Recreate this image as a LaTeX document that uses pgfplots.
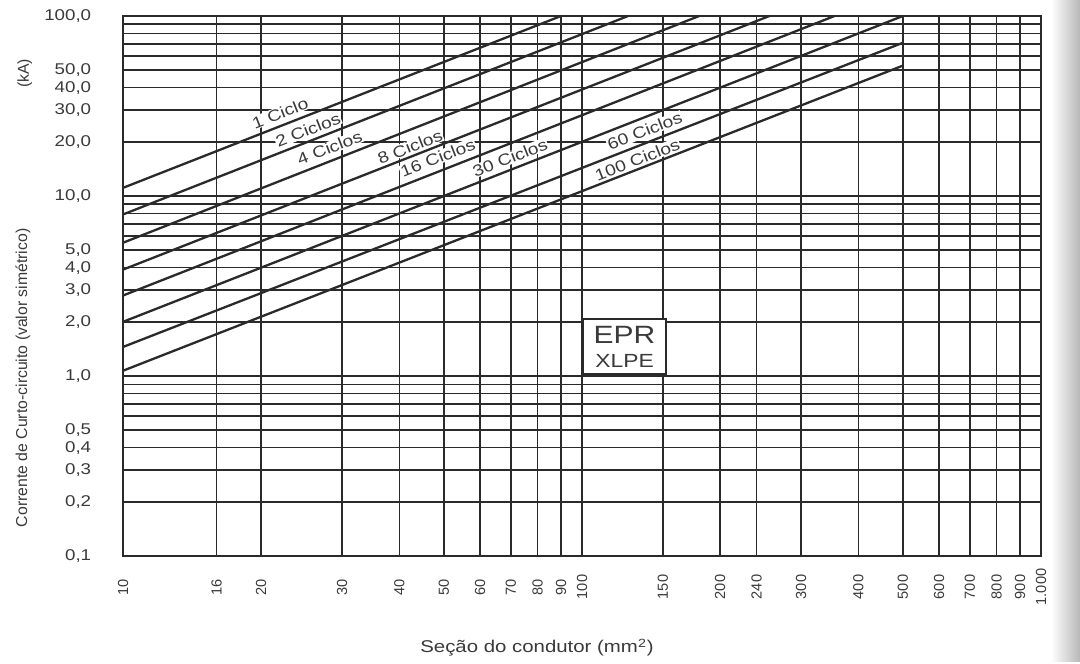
\documentclass[border=0pt]{standalone}
\usepackage{fontspec}
\setmainfont{Liberation Sans}
\newfontfamily\wide{Liberation Sans}[FakeStretch=1.2]
\usepackage{pgfplots}
\pgfplotsset{compat=1.18}
\usetikzlibrary{calc}
\definecolor{ink}{HTML}{2A2A2A}
\definecolor{txt}{HTML}{3A3A3A}
\tikzset{lab/.style={font=\wide\fontsize{8}{9}\selectfont, text=txt, rotate=21.4, fill=white, inner sep=0.3pt}}
\begin{document}
\begin{tikzpicture}
\begin{axis}[
  name=ax, at={(0,0)}, anchor=south west,
  scale only axis, width=459pt, height=270pt,
  xmode=log, ymode=log,
  xmin=10, xmax=1000, ymin=0.1, ymax=100,
  xminorticks=false, yminorticks=false,
  xtick={10,16,20,30,40,50,60,70,80,90,100,150,200,240,300,400,500,600,700,800,900,1000},
  xticklabels={10,16,20,30,40,50,60,70,80,90,100,150,200,240,300,400,500,600,700,800,900,1.000},
  ytick={0.1,0.2,0.3,0.4,0.5,0.6,0.7,0.8,0.9,1,2,3,4,5,6,7,8,9,10,20,30,40,50,60,70,80,90,100},
  yticklabels={{0,1},{0,2},{0,3},{0,4},{0,5},,,,,{1,0},{2,0},{3,0},{4,0},{5,0},,,,,{10,0},{20,0},{30,0},{40,0},{50,0},,,,,{100,0}},
  /pgf/number format/assume math mode=true,
  grid=major,
  major grid style={draw=ink, line width=0.75pt},
  axis line style={draw=ink, line width=0.8pt},
  major tick length=0pt,
  yticklabel style={font=\wide\fontsize{7.8}{9}\selectfont, text=txt, xshift=-12.4pt},
  xticklabel style={font=\fontsize{7.3}{8}\selectfont, text=txt, yshift=-15.5pt, rotate=90, anchor=center},
  clip=false,
]
% curve labels (white background interrupts the grid like the original)
\node[lab] at (axis cs:22.0,28.9) {1 Ciclo};
\node[lab] at (axis cs:25.3,23.3) {2 Ciclos};
\node[lab] at (axis cs:28.2,18.5) {4 Ciclos};
\node[lab] at (axis cs:42.2,18.7) {8 Ciclos};
\node[lab] at (axis cs:48.5,16.3) {16 Ciclos};
\node[lab] at (axis cs:69.7,16.3) {30 Ciclos};
\node[lab] at (axis cs:137,23.0) {60 Ciclos};
\node[lab] at (axis cs:132,15.9) {100 Ciclos};
% curves
\addplot[ink, line width=1.15pt] coordinates {(10,11.1) (90,100)};
\addplot[ink, line width=1.15pt] coordinates {(10,7.9) (126,100)};
\addplot[ink, line width=1.15pt] coordinates {(10,5.5) (180,100)};
\addplot[ink, line width=1.15pt] coordinates {(10,3.9) (256,100)};
\addplot[ink, line width=1.15pt] coordinates {(10,2.8) (355,100)};
\addplot[ink, line width=1.15pt] coordinates {(10,2.0) (500,100)};
\addplot[ink, line width=1.15pt] coordinates {(10,1.45) (500,71)};
\addplot[ink, line width=1.15pt] coordinates {(10,1.07) (500,53)};
% material box
\node[draw=ink, line width=1.1pt, fill=white, minimum width=41.5pt, minimum height=27.5pt,
      align=center, inner sep=1pt, text=txt, font=\wide]
  at (axis cs:123.8,1.458)
  {\fontsize{12.5}{13.5}\selectfont EPR\\\fontsize{9.5}{12.5}\selectfont XLPE};
% axis titles
\node[rotate=90, font=\fontsize{7.9}{9}\selectfont, text=txt] at (rel axis cs:-0.109,0.33)
  {Corrente de Curto-circuito (valor simétrico)};
\node[rotate=90, font=\fontsize{7.9}{9}\selectfont, text=txt] at (rel axis cs:-0.107,0.894) {(kA)};
\node[font=\wide\fontsize{8.5}{10}\selectfont, text=txt] at (rel axis cs:0.451,-0.170)
  {Seção do condutor (mm\textsuperscript{2})};
\end{axis}
% page edge shading of the scan and bounding box
\shade[left color=white, right color=black!28] ($(ax.north east)+(5pt,8pt)$) rectangle ($(ax.south east)+(19.5pt,-52.5pt)$);
\path ($(ax.south west)+(-61.5pt,-52.5pt)$) rectangle ($(ax.north east)+(19.5pt,8pt)$);
\end{tikzpicture}
\end{document}
